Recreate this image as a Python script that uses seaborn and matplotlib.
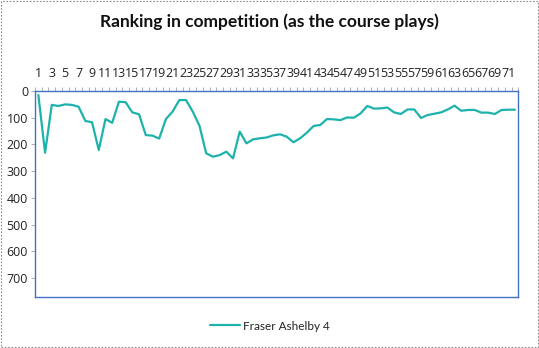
import matplotlib
matplotlib.use("Agg")
import matplotlib.pyplot as plt
import seaborn as sns
import pandas as pd
import numpy as np
from matplotlib.patches import Rectangle

# Data
holes = list(range(1, 73))
ranking = [15, 231, 52, 56, 50, 52, 59, 112, 117, 221,
           105, 119, 40, 42, 80, 87, 165, 167, 178, 105,
           77, 34, 34, 77, 130, 233, 246, 240, 227, 252,
           152, 196, 181, 177, 174, 166, 162, 171, 192, 177,
           156, 131, 127, 105, 106, 109, 99, 100, 84, 56,
           66, 65, 62, 80, 86, 69, 69, 101, 90, 85,
           80, 69, 55, 74, 71, 71, 81, 81, 86, 71,
           70, 70]
series_name = "Fraser Ashelby 4"
title = "Ranking in competition (as the course plays)"
y_ticks = [0, 100, 200, 300, 400, 500, 600, 700]

sns.set_style("white")
plt.rcParams['font.family'] = ['Lato', 'DejaVu Sans']

df = pd.DataFrame({"pos": np.arange(len(holes)), "rank": ranking, "series": series_name})

fig = plt.figure(figsize=(5.39, 3.48), dpi=100)
ax = fig.add_axes([35/539, 1-297/348, (518.3-35)/539, (297-91)/348])

line_color = "#1DB3AC"
sns.lineplot(data=df, x="pos", y="rank", hue="series", palette=[line_color],
             linewidth=1.6, ax=ax, legend=True)

ax.set_xlim(-0.5, len(holes) - 0.5)
ax.set_ylim(771, 0)
ax.set_xlabel("")
ax.set_ylabel("")

tick_font = {"family": ["Open Sans", "DejaVu Sans"], "size": 8.9}

# x axis on top
ax.xaxis.tick_top()
ax.set_xticks(np.arange(0, len(holes), 2))
ax.set_xticklabels([str(h) for h in holes[::2]], fontdict=tick_font)
ax.set_xticks(np.arange(-0.5, len(holes), 1), minor=True)
ax.tick_params(axis='x', which='major', length=0, pad=8, colors="#222222")
ax.tick_params(axis='x', which='minor', length=3, width=0.6, color="#a0a0a0", top=True, bottom=False)

ax.set_yticks(y_ticks)
ax.set_yticklabels([str(v) for v in y_ticks], fontdict=tick_font)
ax.tick_params(axis='y', which='major', length=3, width=0.6, color="#a0a0a0", pad=2,
               labelcolor="#222222", left=True)

for s in ax.spines.values():
    s.set_visible(True)
    s.set_color("#4472C4")
    s.set_linewidth(1.0)

ax.set_title("")
fig.text(269/539, 1-22/348, title, ha="center", va="center", fontsize=12.5,
         fontweight="bold", color="#111111")

leg = ax.legend(loc="center", bbox_to_anchor=(0.5, 1-326/348), bbox_transform=fig.transFigure,
                frameon=False, fontsize=8.5, handlelength=2.6, handletextpad=0.2)
for t in leg.get_texts():
    t.set_color("#222222")

fig.patches.append(Rectangle((0.001, 0.003), 0.997, 0.994, transform=fig.transFigure,
                             fill=False, edgecolor="#8a8a8a", linestyle=(0, (1.5, 1.5)),
                             linewidth=0.8))

fig.savefig("out.png", dpi=100)
